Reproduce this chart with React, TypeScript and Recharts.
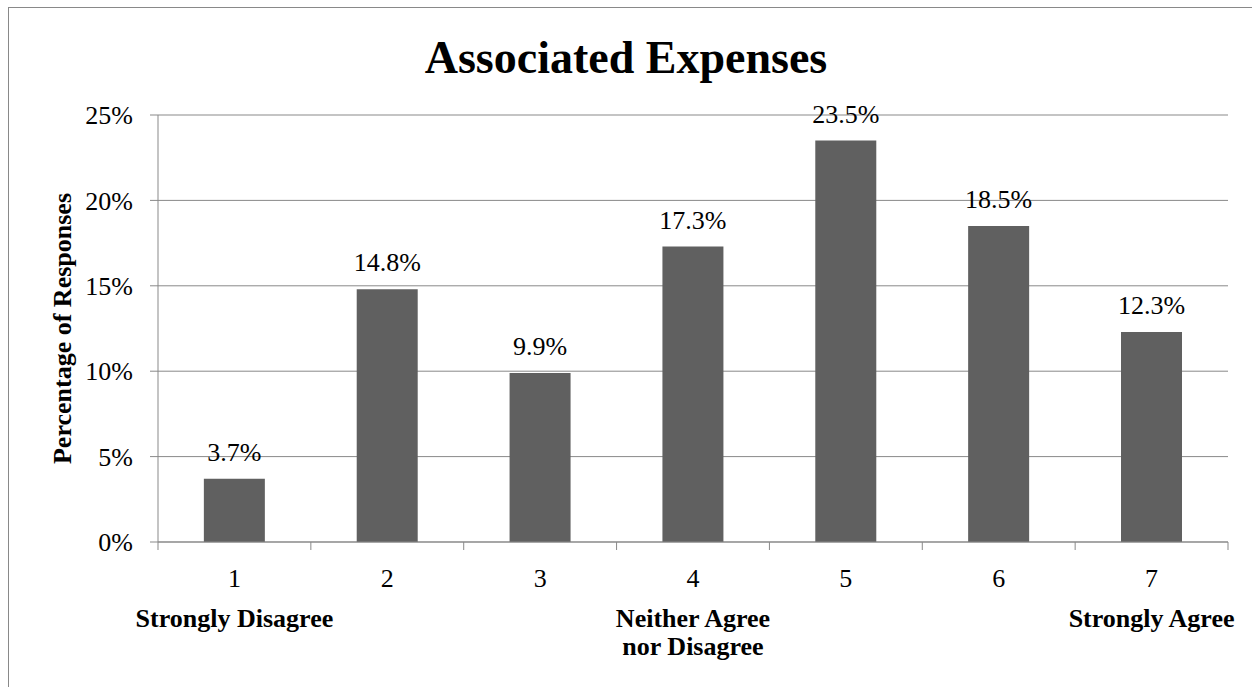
import React from 'react';
import { BarChart, Bar, XAxis, YAxis, CartesianGrid, LabelList } from 'recharts';

const categories = ['1', '2', '3', '4', '5', '6', '7'];
const responses = [3.7, 14.8, 9.9, 17.3, 23.5, 18.5, 12.3];
const descriptions = ['Strongly Disagree', '', '', 'Neither Agree\nnor Disagree', '', '', 'Strongly Agree'];
const yTicks = [0, 5, 10, 15, 20, 25];

const data = categories.map((c, i) => ({ cat: c, value: responses[i] }));

const axisGray = '#898989';
const serif = '"Liberation Serif", "Times New Roman", serif';

function CategoryTick(props: any) {
  const { x, y, payload, index, width, visibleTicksCount } = props;
  const band = width && visibleTicksCount ? width / visibleTicksCount : 0;
  const lines = (descriptions[index] || '').split('\n').filter(Boolean);
  return (
    <g>
      {band > 0 && <line x1={x - band / 2} x2={x - band / 2} y1={y} y2={y + 8} stroke={axisGray} />}
      {band > 0 && index === visibleTicksCount - 1 && (
        <line x1={x + band / 2} x2={x + band / 2} y1={y} y2={y + 8} stroke={axisGray} />
      )}
      <text x={x} y={y + 45} textAnchor="middle" fontFamily={serif} fontSize={26} fill="#000">
        {payload.value}
      </text>
      {lines.map((l, i) => (
        <text key={i} x={x} y={y + 85 + i * 28} textAnchor="middle" fontFamily={serif} fontSize={26} fontWeight="bold" fill="#000">
          {l}
        </text>
      ))}
    </g>
  );
}

export default function App() {
  return (
    <div style={{ position: 'fixed', left: 0, top: 0, width: 1252, height: 687, overflow: 'hidden', background: '#fff' }}>
      <div style={{ position: 'absolute', left: 8, top: 7, width: 1300, height: 720, border: `1px solid ${axisGray}` }}>
        <div
          style={{
            position: 'absolute',
            left: 0,
            top: 23,
            width: 1234,
            textAlign: 'center',
            fontFamily: serif,
            fontWeight: 'bold',
            fontSize: 46,
            lineHeight: 'normal',
            color: '#000',
          }}
        >
          Associated Expenses
        </div>
        <BarChart
          width={1250}
          height={700}
          data={data}
          margin={{ top: 107, right: 31, bottom: 0, left: 0 }}
          barCategoryGap="30%"
        >
          <CartesianGrid horizontal vertical={false} stroke={axisGray} />
          <XAxis
            dataKey="cat"
            height={166}
            axisLine={{ stroke: axisGray }}
            tickLine={false}
            tickSize={0}
            tickMargin={0}
            interval={0}
            tick={<CategoryTick />}
          />
          <YAxis
            width={149}
            domain={[0, 25]}
            ticks={yTicks}
            tickFormatter={(v: number) => `${v}%`}
            axisLine={{ stroke: axisGray }}
            tickLine={{ stroke: axisGray }}
            tickSize={8}
            tickMargin={17}
            tick={{ fontFamily: serif, fontSize: 26, fill: '#000' }}
            label={{
              value: 'Percentage of Responses',
              angle: -90,
              position: 'insideLeft',
              offset: 53,
              style: { textAnchor: 'middle', fontFamily: serif, fontSize: 26, fontWeight: 'bold', fill: '#000' },
            }}
          />
          <Bar dataKey="value" fill="#606060" isAnimationActive={false}>
            <LabelList
              dataKey="value"
              position="top"
              offset={18}
              formatter={(v: any) => `${Number(v).toFixed(1)}%`}
              style={{ fontFamily: serif, fontSize: 26, fill: '#000' }}
            />
          </Bar>
        </BarChart>
      </div>
    </div>
  );
}
